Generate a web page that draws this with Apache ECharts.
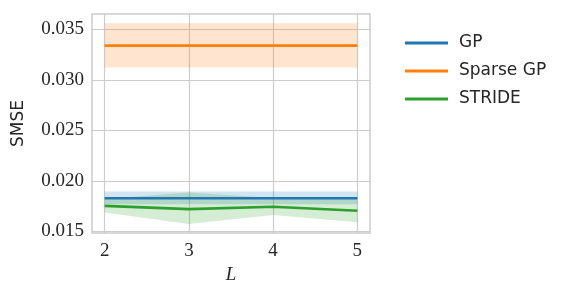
<!DOCTYPE html>
<html>
<head>
<meta charset="utf-8">
<script src="https://cdn.jsdelivr.net/npm/echarts@6/dist/echarts.min.js"></script>
<style>html,body{margin:0;padding:0;background:#fff}#c{width:566px;height:300px}</style>
</head>
<body>
<div id="c"></div>
<script>
const L = [2, 3, 4, 5];
const xTicks = [2, 3, 4, 5];
const yTicks = [0.015, 0.020, 0.025, 0.030, 0.035];

const gpMean  = [0.01828, 0.01828, 0.01828, 0.01828];
const gpLower = [0.01769, 0.01769, 0.01769, 0.01769];
const gpUpper = [0.01894, 0.01894, 0.01894, 0.01894];

const sgpMean  = [0.03340, 0.03340, 0.03340, 0.03340];
const sgpLower = [0.03123, 0.03123, 0.03123, 0.03123];
const sgpUpper = [0.03561, 0.03561, 0.03561, 0.03561];

const strideMean  = [0.01752, 0.01720, 0.01743, 0.01703];
const strideLower = [0.01687, 0.01572, 0.01661, 0.01589];
const strideUpper = [0.01820, 0.01885, 0.01830, 0.01820];

const names = ['GP', 'Sparse GP', 'STRIDE'];
const colors = ['#1f77b4', '#ff7f0e', '#2ca02c'];
const bandColors = ['rgba(31,119,180,0.2)', 'rgba(255,127,14,0.2)', 'rgba(44,160,44,0.2)'];
const means = [gpMean, sgpMean, strideMean];
const lowers = [gpLower, sgpLower, strideLower];
const uppers = [gpUpper, sgpUpper, strideUpper];

function bandRender(color) {
  return function (params, api) {
    if (params.dataIndexInside !== 0) return null;
    const n = params.dataInsideLength;
    const top = [], bot = [];
    for (let j = 0; j < n; j++) {
      const x = api.value(0, j);
      top.push(api.coord([x, api.value(2, j)]));
      bot.push(api.coord([x, api.value(1, j)]));
    }
    const pts = top.concat(bot.reverse());
    return { type: 'polygon', shape: { points: pts }, style: { fill: color, stroke: null } };
  };
}

const series = [];
for (let k = 0; k < 3; k++) {
  series.push({
    name: names[k], type: 'line', symbol: 'none', z: 3,
    data: L.map((x, i) => [x, means[k][i]]),
    lineStyle: { color: colors[k], width: 2.6 }, itemStyle: { color: colors[k] }
  });
  series.push({
    name: names[k] + ' band', type: 'custom', z: 2, silent: true,
    renderItem: bandRender(bandColors[k]),
    encode: { x: 0, y: [1, 2] },
    data: L.map((x, i) => [x, lowers[k][i], uppers[k][i]])
  });
}

const chart = echarts.init(document.getElementById('c'), null, { renderer: 'canvas' });
chart.setOption({
  animation: false,
  backgroundColor: '#fff',
  grid: { left: 92, top: 14, width: 278, height: 219, show: true, borderColor: '#cccccc', borderWidth: 1.5, backgroundColor: 'transparent' },
  legend: {
    data: names, orient: 'vertical', left: 400, top: 28, itemWidth: 43, itemHeight: 3, icon: 'rect', itemGap: 8,
    textStyle: { fontFamily: 'DejaVu Sans', fontSize: 17, color: '#262626', padding: [0, 0, 0, 6], lineHeight: 20 }
  },
  xAxis: {
    type: 'value', min: 1.85, max: 5.15,
    name: 'L', nameLocation: 'middle', nameGap: 32,
    nameTextStyle: { fontFamily: 'Liberation Serif', fontStyle: 'italic', fontSize: 19, color: '#262626' },
    axisLine: { show: false }, axisTick: { show: false, customValues: xTicks },
    axisLabel: { customValues: xTicks, margin: 9, fontFamily: 'Liberation Serif', fontSize: 19, color: '#262626', formatter: v => String(v) },
    splitLine: { show: true, lineStyle: { color: '#cccccc', width: 1.2 } }
  },
  yAxis: {
    type: 'value', min: 0.01483, max: 0.03653,
    name: 'SMSE', nameLocation: 'middle', nameGap: 65,
    nameTextStyle: { fontFamily: 'DejaVu Sans', fontSize: 17, color: '#262626' },
    axisLine: { show: false }, axisTick: { show: false, customValues: yTicks },
    axisLabel: { customValues: yTicks, margin: 8, fontFamily: 'Liberation Serif', fontSize: 19, color: '#262626', formatter: v => v.toFixed(3) },
    splitLine: { show: true, lineStyle: { color: '#cccccc', width: 1.2 } }
  },
  series: series
});
</script>
</body>
</html>
